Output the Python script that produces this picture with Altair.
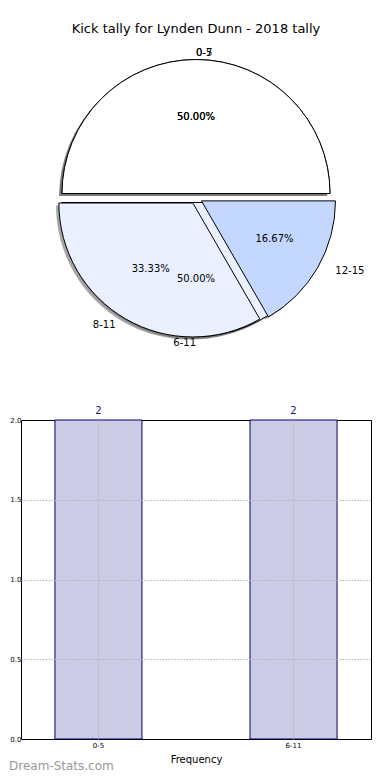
import altair as alt
import numpy as np
import pandas as pd

# ---------------- data ----------------
TITLE = "Kick tally for Lynden Dunn - 2018 tally"
pie1_labels = ["0-5", "6-11"]
pie1_values = [2, 2]
pie2_labels = ["0-7", "8-11", "12-15"]
pie2_values = [3, 2, 1]
bar_categories = ["0-5", "6-11"]
bar_values = [2, 2]
y_ticks = [0, 0.5, 1.0, 1.5, 2.0]

# ---------------- styles ----------------
pie1_colors = ["#ffffff", "#ecf1ff"]
pie2_colors = ["#ffffff", "#eaf0ff", "#c4d8ff"]
pie1_explode = [0.035, 0.035]
pie2_explode = [0.035, 0.045, 0.045]
FONT = "DejaVu Sans"

# layout constants (pixels)
PIE_W = 350
T_EST = 44          # page y of pie plot top
SPACING = 11
PIE_H = 421 - SPACING - T_EST
CENTER_Y = 199
RX, RY = 140.5, 128.0
R_PX = 134
XD = (PIE_W / 2) / RX
YMAX = (CENTER_Y - T_EST) / RY
YMIN = -(PIE_H - (CENTER_Y - T_EST)) / RY


def pie_frame(labels, values, explode, pie_id):
    v = np.array(values, dtype=float)
    frac = v / v.sum()
    cum = np.concatenate([[0.0], np.cumsum(frac)])
    a1 = 360 * cum[:-1]
    a2 = 360 * cum[1:]
    am = np.radians((a1 + a2) / 2)
    ex = np.array(explode, dtype=float)
    cx = ex * np.cos(am)
    cy = ex * np.sin(am)
    return pd.DataFrame({
        "label": labels,
        "pie": pie_id,
        "t0": np.radians(450 - a2),
        "t1": np.radians(450 - a1),
        "cx": cx,
        "cy": cy,
        "lx": cx + 1.1 * np.cos(am),
        "ly": cy + 1.1 * np.sin(am),
        "px": cx + 0.6 * np.cos(am),
        "py": cy + 0.6 * np.sin(am),
        "pct": [f"{100 * f:.2f}%" for f in frac],
        "side": np.where(np.cos(am) > 0, "left", "right"),
    })


pie_df = pd.concat([
    pie_frame(pie1_labels, pie1_values, pie1_explode, 1),
    pie_frame(pie2_labels, pie2_values, pie2_explode, 2),
], ignore_index=True)

xs = alt.Scale(domain=[-XD, XD], nice=False, zero=False)
ys = alt.Scale(domain=[YMIN, YMAX], nice=False, zero=False)
color_scale = alt.Scale(domain=pie1_labels + pie2_labels,
                        range=pie1_colors + pie2_colors)

base = alt.Chart(pie_df)
arc_enc = dict(
    x=alt.X("cx:Q", scale=xs, axis=None),
    y=alt.Y("cy:Q", scale=ys, axis=None),
    theta=alt.Theta("t0:Q", scale=None),
    theta2=alt.Theta2("t1:Q"),
)

shadow = base.mark_arc(radius=R_PX, fill="#4d4d4d", fillOpacity=0.5,
                       xOffset=-2.8, yOffset=2.6).encode(**arc_enc)

wedges1 = base.transform_filter("datum.pie == 1").mark_arc(
    radius=R_PX, stroke="black", strokeWidth=1
).encode(color=alt.Color("label:N", scale=color_scale, legend=None), **arc_enc)

wedges2 = base.transform_filter("datum.pie == 2").mark_arc(
    radius=R_PX, stroke="black", strokeWidth=1
).encode(color=alt.Color("label:N", scale=color_scale, legend=None), **arc_enc)

lab_left = base.transform_filter("datum.side == 'left'").mark_text(
    align="left", baseline="middle", fontSize=10, color="black"
).encode(x=alt.X("lx:Q", scale=xs, axis=None),
         y=alt.Y("ly:Q", scale=ys, axis=None), text="label:N")

lab_right = base.transform_filter("datum.side == 'right'").mark_text(
    align="right", baseline="middle", fontSize=10, color="black"
).encode(x=alt.X("lx:Q", scale=xs, axis=None),
         y=alt.Y("ly:Q", scale=ys, axis=None), text="label:N")

pct = base.mark_text(align="center", baseline="middle", fontSize=10,
                     color="black").encode(
    x=alt.X("px:Q", scale=xs, axis=None),
    y=alt.Y("py:Q", scale=ys, axis=None), text="pct:N")

pie_chart = alt.layer(shadow, wedges1, wedges2, lab_left, lab_right, pct).properties(
    width=PIE_W, height=PIE_H,
    title=alt.TitleParams(TITLE, fontSize=13, font=FONT, fontWeight="normal",
                          anchor="middle", color="black", offset=7),
    view=alt.ViewBackground(stroke="transparent"),
)

# ---------------- bar chart ----------------
bar_df = pd.DataFrame({"cat": bar_categories, "count": bar_values})

edge_grid = alt.condition("datum.value == 0 || datum.value == 2",
                          alt.value(0), alt.value(1))

bx = alt.X("cat:N", sort=bar_categories,
           scale=alt.Scale(paddingInner=0.554, paddingOuter=0.174),
           axis=alt.Axis(title="Frequency", labelAngle=0, labelFontSize=7,
                         labelColor="black", labelPadding=2,
                         titleFontSize=10, titleFontWeight="normal",
                         titleColor="black", titlePadding=6,
                         ticks=False, domain=False, grid=True,
                         gridDash=[1.5, 1.5], gridColor="#b4b4b4",
                         bandPosition=0.5, zindex=1))
by = alt.Y("count:Q", scale=alt.Scale(domain=[0, 2], nice=False),
           axis=alt.Axis(title=None, values=y_ticks, format=".1f",
                         labelFontSize=7, labelColor="black", labelPadding=0,
                         ticks=False, domain=False, grid=True,
                         gridDash=[1.5, 1.5], gridColor="#b4b4b4", zindex=1,
                         gridOpacity=edge_grid,
                         minExtent=12, maxExtent=12))

bars = alt.Chart(bar_df).mark_bar(fill="#ccccE6", stroke="#00006e",
                                  strokeWidth=1).encode(x=bx, y=by)
bar_text = alt.Chart(bar_df).mark_text(baseline="bottom", dy=-4, fontSize=10,
                                       color="#1a1a6e").encode(
    x=alt.X("cat:N", sort=bar_categories), y=alt.Y("count:Q"),
    text="count:Q")

bar_chart = alt.layer(bars, bar_text).properties(
    width=350, height=319,
    title=alt.TitleParams("Dream-Stats.com", orient="bottom", anchor="start",
                          fontSize=12, font=FONT, fontWeight="normal",
                          color="#999999", dy=-3, offset=0),
    view=alt.ViewBackground(stroke="black", strokeWidth=1),
)

chart = alt.vconcat(pie_chart, bar_chart, spacing=SPACING, bounds="flush").properties(
    padding={"left": 0, "top": 14, "right": 0, "bottom": 0}
).configure(font=FONT).configure_text(font=FONT)

chart.save("out.html", embed_options={"renderer": "svg", "actions": False})
